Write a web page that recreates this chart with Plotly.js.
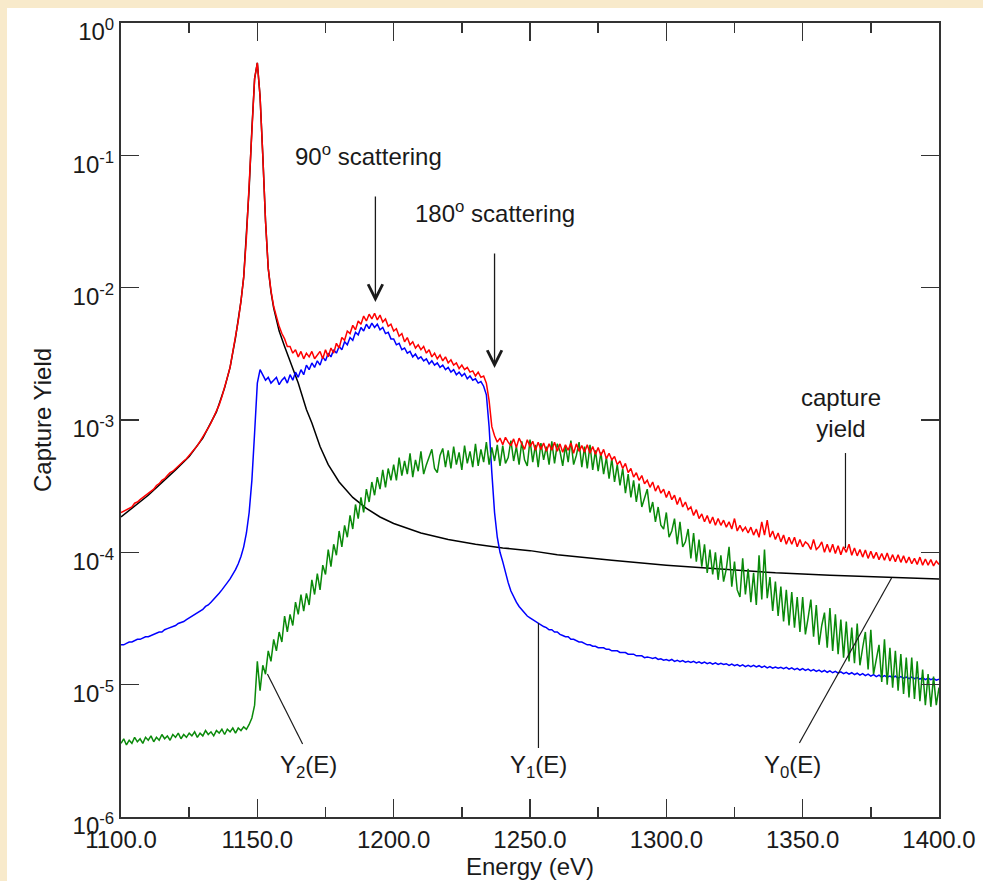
<!DOCTYPE html>
<html>
<head>
<meta charset="utf-8">
<script src="https://cdn.plot.ly/plotly-3.0.1.min.js"></script>
<style>
html, body { margin:0; padding:0; width:983px; height:881px; background:#f8eacb; overflow:hidden; }
#plot { position:absolute; left:7px; top:8px; width:976px; height:873px; background:#fff; }
</style>
</head>
<body>
<div id="plot"></div>
<script>
// Energy grid of the measured spectra: 1100 .. 1400 eV in 1 eV bins
const energyStart = 1100;
const energyStep = 1;

// capture yield (red)
const captureYield = [
2.0e-4,2.05e-4,2.1e-4,2.15e-4,2.2e-4,2.35e-4,2.4e-4,2.5e-4,2.6e-4,2.7e-4,
2.8e-4,2.9e-4,3.0e-4,3.2e-4,3.3e-4,3.5e-4,3.6e-4,3.8e-4,4.0e-4,4.1e-4,
4.3e-4,4.5e-4,4.7e-4,4.9e-4,5.1e-4,5.4e-4,5.7e-4,6.0e-4,6.4e-4,6.9e-4,
7.4e-4,8.0e-4,8.7e-4,9.5e-4,1.06e-3,1.17e-3,1.3e-3,1.5e-3,1.75e-3,2.1e-3,
2.5e-3,3.2e-3,4.2e-3,5.6e-3,7.9e-3,1.2e-2,2.4e-2,5.6e-2,0.158,0.38,
0.50,0.28,0.10,0.032,0.014,9.5e-3,7.2e-3,6.0e-3,5.1e-3,4.5e-3,
4.1e-3,3.6e-3,3.6e-3,3.2e-3,3.4e-3,3.0e-3,3.3e-3,2.9e-3,3.2e-3,3.0e-3,
3.3e-3,2.9e-3,3.1e-3,3.3e-3,2.9e-3,3.4e-3,3.0e-3,3.5e-3,3.2e-3,3.8e-3,
3.5e-3,4.2e-3,4.0e-3,4.7e-3,4.5e-3,5.2e-3,4.8e-3,5.6e-3,5.3e-3,6.1e-3,
5.6e-3,6.3e-3,5.8e-3,6.4e-3,5.7e-3,6.2e-3,5.5e-3,5.8e-3,5.1e-3,5.3e-3,
4.7e-3,4.9e-3,4.3e-3,4.5e-3,3.9e-3,4.2e-3,3.7e-3,3.9e-3,3.5e-3,3.7e-3,
3.4e-3,3.6e-3,3.2e-3,3.4e-3,3.0e-3,3.2e-3,2.9e-3,3.1e-3,2.8e-3,3.0e-3,
2.7e-3,2.85e-3,2.6e-3,2.7e-3,2.45e-3,2.6e-3,2.4e-3,2.5e-3,2.3e-3,2.35e-3,
2.15e-3,2.3e-3,2.1e-3,2.15e-3,1.9e-3,1.4e-3,8.9e-4,7.6e-4,6.8e-4,7.3e-4,
6.5e-4,7.4e-4,6.8e-4,6.4e-4,7.2e-4,6.2e-4,7.3e-4,6.6e-4,6.0e-4,7.1e-4,
6.3e-4,6.9e-4,5.9e-4,6.8e-4,6.0e-4,6.7e-4,5.8e-4,6.6e-4,5.9e-4,6.8e-4,
5.8e-4,6.6e-4,5.7e-4,6.5e-4,5.9e-4,6.7e-4,5.6e-4,6.6e-4,5.8e-4,6.4e-4,
5.7e-4,6.5e-4,5.6e-4,6.3e-4,5.5e-4,6.2e-4,5.4e-4,6.0e-4,5.1e-4,5.6e-4,
5.0e-4,5.3e-4,4.6e-4,4.9e-4,4.3e-4,4.7e-4,4.0e-4,4.3e-4,3.7e-4,4.0e-4,
3.5e-4,3.8e-4,3.3e-4,3.5e-4,3.1e-4,3.4e-4,2.9e-4,3.2e-4,2.8e-4,3.0e-4,
2.6e-4,2.9e-4,2.5e-4,2.7e-4,2.3e-4,2.6e-4,2.2e-4,2.4e-4,2.1e-4,2.2e-4,
1.9e-4,2.1e-4,1.8e-4,1.95e-4,1.7e-4,1.9e-4,1.65e-4,1.85e-4,1.6e-4,1.8e-4,
1.6e-4,1.75e-4,1.55e-4,1.7e-4,1.5e-4,1.8e-4,1.45e-4,1.6e-4,1.45e-4,1.55e-4,
1.4e-4,1.55e-4,1.35e-4,1.5e-4,1.3e-4,1.7e-4,1.35e-4,1.75e-4,1.3e-4,1.45e-4,
1.25e-4,1.4e-4,1.2e-4,1.35e-4,1.15e-4,1.3e-4,1.15e-4,1.3e-4,1.1e-4,1.25e-4,
1.1e-4,1.2e-4,1.15e-4,1.05e-4,1.25e-4,1.05e-4,1.1e-4,1.2e-4,1.0e-4,1.15e-4,
1.0e-4,1.15e-4,9.8e-5,1.12e-4,9.6e-5,1.1e-4,1.0e-4,1.15e-4,9.5e-5,1.08e-4,
9.4e-5,1.05e-4,9.2e-5,1.04e-4,9.0e-5,1.02e-4,9.0e-5,1.0e-4,8.8e-5,9.8e-5,
8.7e-5,9.9e-5,8.6e-5,9.6e-5,8.5e-5,9.6e-5,8.4e-5,9.4e-5,8.3e-5,9.2e-5,
8.2e-5,9.0e-5,8.1e-5,9.2e-5,8.0e-5,8.9e-5,8.0e-5,8.8e-5,7.9e-5,8.6e-5,
8.1e-5
];

// Y1(E): single-scattering contribution (blue)
const y1Yield = [
2.0e-5,2.0e-5,2.05e-5,2.1e-5,2.1e-5,2.15e-5,2.2e-5,2.2e-5,2.25e-5,2.3e-5,
2.3e-5,2.35e-5,2.4e-5,2.45e-5,2.5e-5,2.5e-5,2.6e-5,2.65e-5,2.7e-5,2.75e-5,
2.8e-5,2.9e-5,2.95e-5,3.0e-5,3.1e-5,3.2e-5,3.3e-5,3.4e-5,3.5e-5,3.6e-5,
3.7e-5,3.9e-5,4.0e-5,4.2e-5,4.4e-5,4.6e-5,4.9e-5,5.2e-5,5.5e-5,5.9e-5,
6.3e-5,6.8e-5,7.4e-5,8.2e-5,9.3e-5,1.1e-4,1.4e-4,2.0e-4,3.5e-4,8.0e-4,
1.9e-3,2.4e-3,2.2e-3,2.0e-3,2.1e-3,1.9e-3,2.0e-3,2.1e-3,1.85e-3,2.0e-3,
2.1e-3,1.9e-3,2.2e-3,2.0e-3,2.3e-3,2.1e-3,2.4e-3,2.2e-3,2.6e-3,2.4e-3,
2.7e-3,2.5e-3,2.8e-3,2.6e-3,3.0e-3,2.8e-3,3.2e-3,3.0e-3,3.4e-3,3.2e-3,
3.6e-3,3.4e-3,3.9e-3,3.7e-3,4.2e-3,4.0e-3,4.6e-3,4.4e-3,5.0e-3,4.7e-3,
5.3e-3,4.9e-3,5.4e-3,5.0e-3,5.3e-3,4.8e-3,5.0e-3,4.5e-3,4.6e-3,4.1e-3,
4.1e-3,3.7e-3,3.8e-3,3.4e-3,3.5e-3,3.2e-3,3.3e-3,3.0e-3,3.15e-3,2.9e-3,
3.0e-3,2.8e-3,2.9e-3,2.65e-3,2.8e-3,2.6e-3,2.7e-3,2.5e-3,2.6e-3,2.4e-3,
2.5e-3,2.3e-3,2.4e-3,2.2e-3,2.3e-3,2.15e-3,2.25e-3,2.05e-3,2.15e-3,2.0e-3,
2.05e-3,1.9e-3,1.95e-3,1.8e-3,1.55e-3,8.9e-4,4.0e-4,2.0e-4,1.3e-4,1.0e-4,
8.5e-5,7.0e-5,5.9e-5,5.1e-5,4.6e-5,4.2e-5,3.9e-5,3.7e-5,3.5e-5,3.3e-5,
3.2e-5,3.1e-5,3.0e-5,2.9e-5,2.85e-5,2.75e-5,2.7e-5,2.6e-5,2.6e-5,2.5e-5,
2.5e-5,2.4e-5,2.35e-5,2.3e-5,2.3e-5,2.2e-5,2.2e-5,2.15e-5,2.1e-5,2.1e-5,
2.05e-5,2.0e-5,2.0e-5,1.95e-5,1.95e-5,1.9e-5,1.9e-5,1.9e-5,1.85e-5,1.85e-5,
1.8e-5,1.8e-5,1.8e-5,1.75e-5,1.75e-5,1.75e-5,1.7e-5,1.7e-5,1.7e-5,1.65e-5,
1.65e-5,1.65e-5,1.6e-5,1.62e-5,1.6e-5,1.58e-5,1.6e-5,1.55e-5,1.57e-5,1.53e-5,
1.55e-5,1.52e-5,1.55e-5,1.5e-5,1.53e-5,1.49e-5,1.52e-5,1.48e-5,1.5e-5,1.47e-5,
1.5e-5,1.46e-5,1.49e-5,1.45e-5,1.48e-5,1.44e-5,1.47e-5,1.43e-5,1.46e-5,1.42e-5,
1.45e-5,1.42e-5,1.44e-5,1.4e-5,1.43e-5,1.39e-5,1.42e-5,1.38e-5,1.41e-5,1.37e-5,
1.4e-5,1.37e-5,1.4e-5,1.36e-5,1.39e-5,1.35e-5,1.38e-5,1.34e-5,1.37e-5,1.33e-5,
1.36e-5,1.33e-5,1.35e-5,1.32e-5,1.35e-5,1.31e-5,1.34e-5,1.3e-5,1.33e-5,1.29e-5,
1.32e-5,1.28e-5,1.31e-5,1.27e-5,1.3e-5,1.26e-5,1.29e-5,1.25e-5,1.28e-5,1.24e-5,
1.27e-5,1.23e-5,1.26e-5,1.22e-5,1.25e-5,1.21e-5,1.24e-5,1.2e-5,1.23e-5,1.19e-5,
1.22e-5,1.18e-5,1.21e-5,1.17e-5,1.2e-5,1.16e-5,1.19e-5,1.15e-5,1.18e-5,1.14e-5,
1.17e-5,1.14e-5,1.16e-5,1.13e-5,1.16e-5,1.12e-5,1.15e-5,1.12e-5,1.14e-5,1.11e-5,
1.14e-5,1.11e-5,1.13e-5,1.1e-5,1.13e-5,1.09e-5,1.12e-5,1.09e-5,1.11e-5,1.08e-5,
1.1e-5
];

// Y2(E): double-scattering contribution (green)
const y2Yield = [
3.6e-6,3.9e-6,3.5e-6,3.8e-6,3.6e-6,4.0e-6,3.7e-6,3.9e-6,3.6e-6,4.0e-6,
3.8e-6,4.1e-6,3.7e-6,4.0e-6,3.8e-6,4.2e-6,3.9e-6,4.1e-6,3.8e-6,4.2e-6,
4.0e-6,4.3e-6,3.9e-6,4.2e-6,4.0e-6,4.3e-6,4.1e-6,4.4e-6,4.0e-6,4.3e-6,
4.1e-6,4.5e-6,4.2e-6,4.4e-6,4.1e-6,4.5e-6,4.3e-6,4.6e-6,4.2e-6,4.6e-6,
4.4e-6,4.7e-6,4.3e-6,4.7e-6,4.5e-6,4.8e-6,4.6e-6,5.0e-6,5.6e-6,7.0e-6,
1.5e-5,9.0e-6,1.4e-5,1.2e-5,1.8e-5,1.5e-5,2.2e-5,1.8e-5,2.5e-5,2.1e-5,
3.3e-5,2.5e-5,3.4e-5,2.8e-5,4.2e-5,3.4e-5,4.8e-5,3.6e-5,4.9e-5,4.0e-5,
6.2e-5,4.8e-5,6.9e-5,5.2e-5,8.0e-5,6.8e-5,1.05e-4,7.8e-5,1.15e-4,9.5e-5,
1.45e-4,1.1e-4,1.6e-4,1.3e-4,1.9e-4,1.5e-4,2.3e-4,1.8e-4,2.6e-4,2.0e-4,
3.0e-4,2.4e-4,3.4e-4,2.7e-4,3.7e-4,3.0e-4,4.2e-4,3.1e-4,4.3e-4,3.5e-4,
4.6e-4,3.5e-4,5.2e-4,3.8e-4,4.9e-4,3.9e-4,5.6e-4,3.7e-4,5.0e-4,4.1e-4,
5.8e-4,3.9e-4,4.6e-4,5.3e-4,6.0e-4,4.3e-4,4.0e-4,5.4e-4,6.1e-4,4.4e-4,
5.9e-4,4.3e-4,6.3e-4,4.6e-4,5.7e-4,4.2e-4,6.4e-4,4.7e-4,5.8e-4,4.4e-4,
6.6e-4,4.5e-4,6.0e-4,4.8e-4,6.8e-4,4.6e-4,6.2e-4,4.9e-4,6.5e-4,4.5e-4,
6.4e-4,4.7e-4,5.2e-4,7.0e-4,4.9e-4,6.3e-4,4.6e-4,6.9e-4,5.0e-4,4.5e-4,
7.1e-4,4.8e-4,6.5e-4,4.4e-4,6.7e-4,5.0e-4,6.3e-4,4.6e-4,6.9e-4,4.7e-4,
6.6e-4,5.8e-4,4.5e-4,6.4e-4,4.8e-4,7.0e-4,4.6e-4,5.4e-4,6.8e-4,4.4e-4,
6.3e-4,4.3e-4,6.5e-4,4.2e-4,5.9e-4,4.1e-4,5.7e-4,3.9e-4,5.2e-4,3.6e-4,
5.1e-4,3.4e-4,4.6e-4,3.2e-4,4.3e-4,2.8e-4,3.9e-4,2.6e-4,3.5e-4,2.4e-4,
3.3e-4,2.2e-4,2.6e-4,3.0e-4,2.0e-4,2.4e-4,1.7e-4,2.2e-4,1.6e-4,1.5e-4,
2.0e-4,1.3e-4,1.45e-4,1.8e-4,1.15e-4,1.7e-4,1.1e-4,1.2e-4,1.5e-4,9.0e-5,
1.4e-4,8.5e-5,1.25e-4,7.8e-5,1.15e-4,7.0e-5,1.05e-4,6.8e-5,1.0e-4,6.2e-5,
9.5e-5,6.0e-5,7.5e-5,1.1e-4,5.5e-5,8.5e-5,5.2e-5,4.6e-5,9.0e-5,4.8e-5,
7.5e-5,4.2e-5,7.0e-5,4.0e-5,9.5e-5,4.4e-5,1.05e-4,4.5e-5,6.5e-5,3.6e-5,
6.0e-5,3.3e-5,5.5e-5,3.0e-5,5.2e-5,2.8e-5,5.0e-5,2.7e-5,4.6e-5,2.5e-5,
4.6e-5,2.4e-5,3.2e-5,4.4e-5,2.3e-5,4.0e-5,2.0e-5,2.8e-5,3.5e-5,1.9e-5,
3.8e-5,1.8e-5,3.4e-5,1.7e-5,3.1e-5,1.6e-5,3.0e-5,1.5e-5,2.7e-5,1.45e-5,
2.9e-5,1.4e-5,1.9e-5,2.5e-5,1.3e-5,2.6e-5,1.2e-5,1.6e-5,2.0e-5,1.05e-5,
2.2e-5,1.0e-5,1.9e-5,9.5e-6,1.8e-5,9.0e-6,1.7e-5,8.5e-6,1.6e-5,8.0e-6,
1.6e-5,7.8e-6,1.5e-5,7.5e-6,1.3e-5,7.0e-6,1.2e-5,6.8e-6,1.15e-5,7.0e-6,
9.5e-6
];

// Y0(E): primary capture yield (black, smooth)
const y0Energy = [1100,1110,1120,1125,1130,1135,1138,1140,1142,1144,1145,1146,1147,1148,1149,1150,1151,1152,1153,1154,1155,1156,1157,1158,1160,1162,1165,1168,1170,1173,1176,1180,1185,1190,1195,1200,1210,1220,1230,1240,1250,1260,1280,1300,1320,1340,1360,1380,1400];
const y0Yield = [1.85e-4,2.7e-4,4.2e-4,5.3e-4,7.3e-4,1.15e-3,1.75e-3,2.5e-3,4.2e-3,7.9e-3,1.2e-2,2.4e-2,5.6e-2,0.158,0.38,0.50,0.28,0.10,0.032,0.014,9.3e-3,7.0e-3,5.6e-3,4.7e-3,3.6e-3,2.8e-3,1.9e-3,1.2e-3,9.5e-4,6.3e-4,4.6e-4,3.4e-4,2.6e-4,2.15e-4,1.85e-4,1.65e-4,1.4e-4,1.25e-4,1.15e-4,1.08e-4,1.03e-4,9.6e-5,8.7e-5,8.0e-5,7.5e-5,7.0e-5,6.7e-5,6.5e-5,6.3e-5];

// axis ticks
const yTickVals = [1e-6,1e-5,1e-4,1e-3,1e-2,1e-1,1];
const yTickText = ['10<sup>-6</sup>','10<sup>-5</sup>','10<sup>-4</sup>','10<sup>-3</sup>','10<sup>-2</sup>','10<sup>-1</sup>','10<sup>0</sup>'];

const FONT = 'Liberation Sans, Arial, Helvetica, sans-serif';
const INK = '#1a1a1a';

const traces = [
  {x: y0Energy, y: y0Yield, type:'scatter', mode:'lines', line:{color:'#000000', width:1.5}, name:'Y0(E)'},
  {x0: energyStart, dx: energyStep, y: y1Yield, type:'scatter', mode:'lines', line:{color:'#0000ff', width:1.5}, name:'Y1(E)'},
  {x0: energyStart, dx: energyStep, y: y2Yield, type:'scatter', mode:'lines', line:{color:'#0a8a0a', width:1.5}, name:'Y2(E)'},
  {x0: energyStart, dx: energyStep, y: captureYield, type:'scatter', mode:'lines', line:{color:'#ff0000', width:1.5}, name:'capture yield'}
];

const annotations = [
  {xref:'x', yref:'y', x:1190.6, y:-1.0, text:'90<sup>o</sup> scattering', showarrow:false, font:{size:24, color:INK}},
  {xref:'x', yref:'y', x:1237.3, y:-1.43, text:'180<sup>o</sup> scattering', showarrow:false, font:{size:24, color:INK}},
  {xref:'x', yref:'y', x:1193.3, y:-2.108, ax:0, ay:-107, text:'', showarrow:true, arrowhead:5, arrowsize:2.2, arrowwidth:1.3, arrowcolor:INK, standoff:0},
  {xref:'x', yref:'y', x:1237.0, y:-2.607, ax:0, ay:-116, text:'', showarrow:true, arrowhead:5, arrowsize:2.2, arrowwidth:1.3, arrowcolor:INK, standoff:0},
  {xref:'x', yref:'y', x:1364.2, y:-2.95, text:'capture<br>yield', showarrow:false, font:{size:24, color:INK}},
  {xref:'x', yref:'y', x:1168.8, y:-5.62, text:'Y<sub>2</sub>(E)', showarrow:false, font:{size:24, color:INK}},
  {xref:'x', yref:'y', x:1253.1, y:-5.62, text:'Y<sub>1</sub>(E)', showarrow:false, font:{size:24, color:INK}},
  {xref:'x', yref:'y', x:1346.3, y:-5.62, text:'Y<sub>0</sub>(E)', showarrow:false, font:{size:24, color:INK}}
];

// leader lines from the labels to their curves (x in eV, y as fraction of plot height)
const leader = {color:INK, width:1.2};
const shapes = [
  {type:'line', xref:'x', yref:'paper', x0:1153.7, y0:0.1801, x1:1166.6, y1:0.0919, line:leader},
  {type:'line', xref:'x', yref:'paper', x0:1253.1, y0:0.2443, x1:1253.1, y1:0.0869, line:leader},
  {type:'line', xref:'x', yref:'paper', x0:1382.6, y0:0.3010, x1:1348.8, y1:0.0932, line:leader},
  {type:'line', xref:'x', yref:'paper', x0:1365.7, y0:0.4584, x1:1365.7, y1:0.3388, line:leader}
];

const layout = {
  width: 976, height: 873,
  margin: {l:114, r:44, t:15, b:64},
  paper_bgcolor:'#ffffff', plot_bgcolor:'#ffffff',
  showlegend:false,
  hovermode:false,
  font:{family:FONT, size:24, color:INK},
  xaxis:{
    range:[1100,1400], tickmode:'linear', tick0:1100, dtick:50, tickformat:'.1f',
    ticks:'inside', ticklen:18, tickwidth:1.5, tickcolor:'#333',
    minor:{tickmode:'linear', tick0:1100, dtick:25, ticks:'inside', ticklen:10, tickwidth:1.5, tickcolor:'#333', showgrid:false},
    showline:true, linecolor:'#333', linewidth:2, mirror:'ticks',
    showgrid:false, zeroline:false, automargin:false,
    tickfont:{family:FONT, size:24, color:INK},
    title:{text:'Energy (eV)', font:{family:FONT, size:24, color:INK}, standoff:4}
  },
  yaxis:{
    type:'log', range:[-6.0002,0.0002], tickmode:'array', tickvals:yTickVals, ticktext:yTickText,
    ticks:'inside', ticklen:18, tickwidth:1.5, tickcolor:'#333',
    showline:true, linecolor:'#333', linewidth:2, mirror:'ticks',
    showgrid:false, zeroline:false, automargin:false,
    ticklabelshift:9, ticklabeloverflow:'allow',
    tickfont:{family:FONT, size:24, color:INK},
    title:{text:'Capture Yield', font:{family:FONT, size:24, color:INK}, standoff:14}
  },
  annotations: annotations,
  shapes: shapes
};

Plotly.newPlot('plot', traces, layout, {staticPlot:true, displayModeBar:false});
</script>
</body>
</html>
